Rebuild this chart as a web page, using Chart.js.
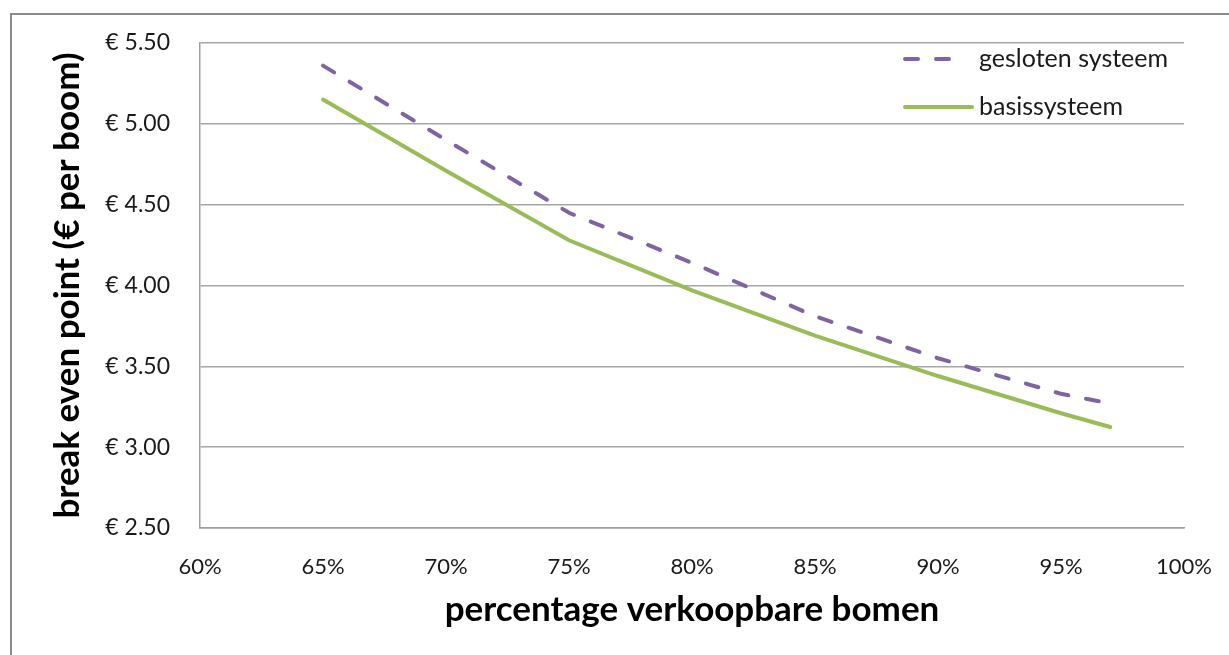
<!DOCTYPE html>
<html>
<head>
<meta charset="utf-8">
<script src="https://cdn.jsdelivr.net/npm/chart.js@4"></script>
<style>
  html, body { margin: 0; padding: 0; background: #fff; }
  #wrap { position: relative; width: 1229px; height: 655px; overflow: hidden; }
  #frame { position: absolute; left: 10px; top: 13px; width: 1240px; height: 700px; border-left: 2px solid #8a8a8a; border-top: 2px solid #8a8a8a; box-sizing: border-box; }
  canvas { position: absolute; left: 0; top: 0; }
</style>
</head>
<body>
<div id="wrap">
  <div id="frame"></div>
  <canvas id="c" width="1229" height="655"></canvas>
</div>
<script>
const percentages = [65, 70, 75, 80, 85, 90, 95, 97];
const geslotenSysteem = [5.36, 4.90, 4.45, 4.14, 3.81, 3.55, 3.33, 3.27];
const basisSysteem = [5.15, 4.71, 4.28, 3.97, 3.69, 3.44, 3.21, 3.125];
const seriesNames = ['gesloten systeem', 'basissysteem'];
const xTitle = 'percentage verkoopbare bomen';
const yTitle = 'break even point (€ per boom)';

const FONT = 'Lato, "Open Sans", "Noto Sans", sans-serif';

const toPoints = (vals) => vals.map((v, i) => ({ x: percentages[i], y: v }));

const legendPlugin = {
  id: 'insideLegend',
  afterDraw(chart) {
    const ctx = chart.ctx;
    const items = [
      { ds: chart.data.datasets[0], y: 59, end: 958 },
      { ds: chart.data.datasets[1], y: 107, end: 972 }
    ];
    ctx.save();
    items.forEach(it => {
      ctx.beginPath();
      ctx.strokeStyle = it.ds.borderColor;
      ctx.lineWidth = it.ds.borderWidth;
      ctx.lineCap = it.ds.borderCapStyle || 'butt';
      ctx.setLineDash(it.ds.borderDash || []);
      ctx.moveTo(905, it.y);
      ctx.lineTo(it.end, it.y);
      ctx.stroke();
      ctx.setLineDash([]);
      ctx.fillStyle = '#1a1a1a';
      ctx.font = '25px ' + FONT;
      ctx.textBaseline = 'middle';
      ctx.textAlign = 'left';
      ctx.fillText(it.ds.label, 979, it.y);
    });
    ctx.restore();
  }
};

new Chart(document.getElementById('c'), {
  type: 'line',
  data: {
    datasets: [
      {
        label: seriesNames[0],
        data: toPoints(geslotenSysteem),
        borderColor: '#8064A2',
        borderWidth: 4,
        borderDash: [13, 18],
        borderCapStyle: 'round',
        pointRadius: 0,
        tension: 0,
        fill: false
      },
      {
        label: seriesNames[1],
        data: toPoints(basisSysteem),
        borderColor: '#9BBB59',
        borderWidth: 4,
        borderCapStyle: 'round',
        pointRadius: 0,
        tension: 0,
        fill: false
      }
    ]
  },
  options: {
    responsive: false,
    animation: false,
    devicePixelRatio: 1,
    layout: { padding: { top: 43, right: 45, left: 0, bottom: 0 } },
    plugins: { legend: { display: false }, tooltip: { enabled: false } },
    scales: {
      x: {
        type: 'linear',
        min: 60, max: 100,
        afterFit: s => { s.height = 127; s.paddingLeft = 0; s.paddingRight = 0; },
        ticks: {
          stepSize: 5,
          padding: 26,
          color: '#1a1a1a',
          font: { family: FONT, size: 22 },
          callback: v => v + '%',
          maxRotation: 0
        },
        grid: { display: false, drawTicks: false },
        border: { display: true, color: '#a0a0a0', width: 1.5 },
        title: {
          display: true,
          text: xTitle,
          color: '#000',
          font: { family: FONT, size: 35, weight: 'bold' },
          padding: { top: 0, bottom: 24 }
        }
      },
      y: {
        type: 'linear',
        min: 2.5, max: 5.5,
        afterFit: s => { s.width = 200; s.paddingTop = 0; s.paddingBottom = 0; },
        ticks: {
          stepSize: 0.5,
          padding: 30,
          color: '#1a1a1a',
          font: { family: FONT, size: 23 },
          callback: v => '€ ' + Number(v).toFixed(2)
        },
        grid: { color: '#a6a6a6', lineWidth: 1.5, drawTicks: false },
        border: { display: true, color: '#a0a0a0', width: 1.5 },
        title: {
          display: true,
          text: yTitle,
          color: '#000',
          font: { family: FONT, size: 35, weight: 'bold' },
          padding: { top: 47, bottom: 0 }
        }
      }
    }
  },
  plugins: [legendPlugin]
});
</script>
</body>
</html>
